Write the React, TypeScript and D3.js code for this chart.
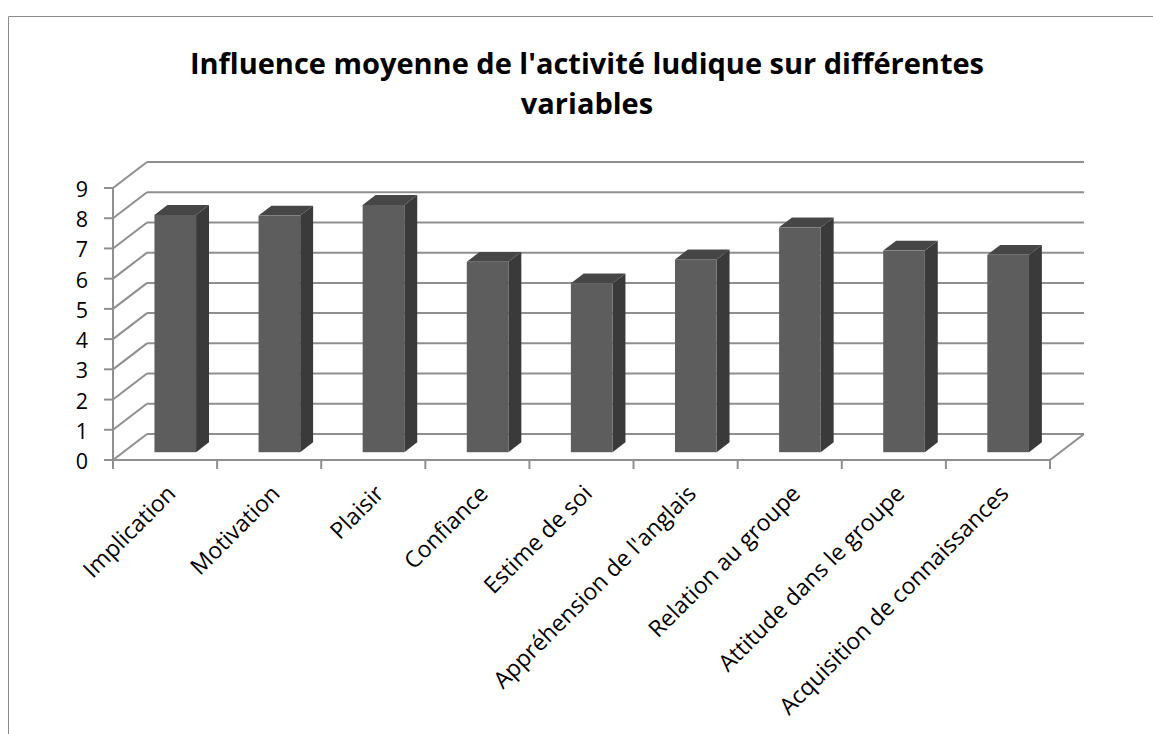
import React, { useEffect, useRef } from 'react';
import * as d3 from 'd3';

const categories = [
  'Implication',
  'Motivation',
  'Plaisir',
  'Confiance',
  'Estime de soi',
  "Appréhension de l'anglais",
  'Relation au groupe',
  'Attitude dans le groupe',
  'Acquisition de connaissances',
];
const values = [7.85, 7.83, 8.18, 6.3, 5.59, 6.38, 7.44, 6.67, 6.53];
const yTicks = [0, 1, 2, 3, 4, 5, 6, 7, 8, 9];
const titleLines = ["Influence moyenne de l'activité ludique sur différentes", 'variables'];

const App = () => {
  const chartRef = useRef(null);

  useEffect(() => {
    const width = 1153;
    const height = 734;
    const font = "'Open Sans', sans-serif";

    // front plane of the 3d box
    const left = 113;
    const right = 1050;
    const bottom = 460;
    const top = 188;
    // depth vector of the box
    const depthX = 34;
    const depthY = -26;

    const x = d3.scaleBand().domain(categories).range([left, right]).padding(0);
    const y = d3.scaleLinear().domain([0, 9]).range([bottom, top]);

    const px = (xv, d) => xv + depthX * d;
    const py = (yv, d) => yv + depthY * d;

    d3.select(chartRef.current).selectAll('*').remove();

    const svg = d3
      .select(chartRef.current)
      .append('svg')
      .attr('width', width)
      .attr('height', height)
      .style('display', 'block');

    svg
      .append('rect')
      .attr('width', width)
      .attr('height', height)
      .attr('fill', '#fff');

    // chart frame (only left and top edges are inside the picture)
    svg
      .append('path')
      .attr('d', `M8.5,${height}V16.5H${width}`)
      .attr('fill', 'none')
      .attr('stroke', '#8c8c8c')
      .attr('stroke-width', 1);

    const gridColor = '#8f8f8f';

    // back wall gridlines + side wall diagonals
    const grid = svg.append('g');
    grid
      .selectAll('.back')
      .data(yTicks)
      .enter()
      .append('line')
      .attr('x1', px(left, 1))
      .attr('x2', px(right, 1))
      .attr('y1', (d) => py(y(d), 1))
      .attr('y2', (d) => py(y(d), 1))
      .attr('stroke', gridColor)
      .attr('stroke-width', 2);

    grid
      .selectAll('.side')
      .data(yTicks)
      .enter()
      .append('line')
      .attr('x1', left)
      .attr('x2', px(left, 1))
      .attr('y1', (d) => y(d))
      .attr('y2', (d) => py(y(d), 1))
      .attr('stroke', gridColor)
      .attr('stroke-width', 2);

    // floor right edge
    grid
      .append('line')
      .attr('x1', right)
      .attr('y1', bottom)
      .attr('x2', px(right, 1))
      .attr('y2', py(bottom, 1))
      .attr('stroke', gridColor)
      .attr('stroke-width', 2);

    // bars
    const barW = x.bandwidth() * 0.4;
    const d0 = 0.3;
    const d1 = 0.68;
    const bars = svg.append('g');
    categories.forEach((c, i) => {
      const xl = x(c) + (x.bandwidth() - barW) / 2;
      const xr = xl + barW;
      const yt = y(values[i]);
      const yb = y(0);
      const g = bars.append('g');
      // side face
      g.append('path')
        .attr(
          'd',
          d3.line()([
            [px(xr, d0), py(yb, d0)],
            [px(xr, d1), py(yb, d1)],
            [px(xr, d1), py(yt, d1)],
            [px(xr, d0), py(yt, d0)],
          ]) + 'Z'
        )
        .attr('fill', '#3a3a3a');
      // top face
      g.append('path')
        .attr(
          'd',
          d3.line()([
            [px(xl, d0), py(yt, d0)],
            [px(xr, d0), py(yt, d0)],
            [px(xr, d1), py(yt, d1)],
            [px(xl, d1), py(yt, d1)],
          ]) + 'Z'
        )
        .attr('fill', '#464646');
      // front face
      g.append('rect')
        .attr('x', px(xl, d0))
        .attr('y', py(yt, d0))
        .attr('width', barW)
        .attr('height', yb - yt)
        .attr('fill', '#5d5d5d');
    });

    // y axis
    const yAxis = svg.append('g');
    yAxis
      .append('line')
      .attr('x1', left)
      .attr('x2', left)
      .attr('y1', y(0))
      .attr('y2', y(9))
      .attr('stroke', gridColor)
      .attr('stroke-width', 2);
    yAxis
      .selectAll('.tick')
      .data(yTicks)
      .enter()
      .append('line')
      .attr('x1', left - 9)
      .attr('x2', left)
      .attr('y1', (d) => y(d))
      .attr('y2', (d) => y(d))
      .attr('stroke', gridColor)
      .attr('stroke-width', 2);
    yAxis
      .selectAll('.lbl')
      .data(yTicks)
      .enter()
      .append('text')
      .attr('x', 88)
      .attr('y', (d) => y(d) + 9)
      .attr('text-anchor', 'end')
      .attr('font-family', font)
      .attr('font-size', 21.5)
      .attr('fill', '#000')
      .text((d) => d);

    // x axis
    const xAxis = svg.append('g');
    xAxis
      .append('line')
      .attr('x1', left)
      .attr('x2', right)
      .attr('y1', bottom)
      .attr('y2', bottom)
      .attr('stroke', gridColor)
      .attr('stroke-width', 2);
    const boundaries = categories.map((c) => x(c)).concat([right]);
    xAxis
      .selectAll('.tick')
      .data(boundaries)
      .enter()
      .append('line')
      .attr('x1', (d) => d)
      .attr('x2', (d) => d)
      .attr('y1', bottom)
      .attr('y2', bottom + 9)
      .attr('stroke', gridColor)
      .attr('stroke-width', 2);
    xAxis
      .selectAll('.lbl')
      .data(categories)
      .enter()
      .append('text')
      .attr('text-anchor', 'end')
      .attr(
        'transform',
        (d) => `translate(${x(d) + x.bandwidth() / 2 + 12},${bottom + 35}) rotate(-45)`
      )
      .attr('font-family', font)
      .attr('font-size', 23)
      .attr('fill', '#000')
      .text((d) => d);

    // title
    svg
      .append('g')
      .selectAll('text')
      .data(titleLines)
      .enter()
      .append('text')
      .attr('x', 587)
      .attr('y', (d, i) => 74 + i * 40)
      .attr('text-anchor', 'middle')
      .attr('font-family', font)
      .attr('font-weight', 'bold')
      .attr('font-size', 29)
      .attr('fill', '#000')
      .text((d) => d);
  }, []);

  return (
    <div
      ref={chartRef}
      style={{ position: 'absolute', left: 0, top: 0, width: 1153, height: 734, overflow: 'hidden' }}
    ></div>
  );
};

export default App;
